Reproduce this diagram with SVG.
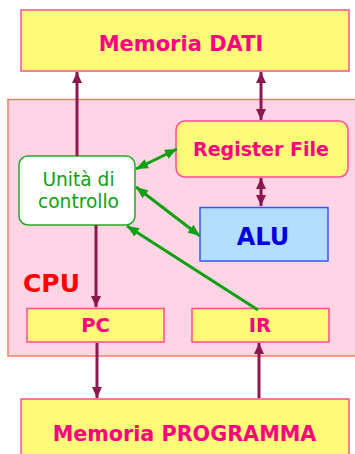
<svg xmlns="http://www.w3.org/2000/svg" width="355" height="454" viewBox="0 0 355 454">
<style>
.mem{fill:#FFFA7A;stroke:#FF4C94;stroke-width:1.5}
.lbl{font-family:"DejaVu Sans",Verdana,sans-serif;font-weight:bold;fill:#FF0080;text-anchor:middle}
.bus{stroke:#8C1850;stroke-width:3;fill:none}
.ctl{stroke:#10A010;stroke-width:3;fill:none}
</style>
<defs>
<marker id="mh" viewBox="0 0 11 10" refX="11" refY="5" markerWidth="11" markerHeight="10" markerUnits="userSpaceOnUse" orient="auto-start-reverse"><path d="M0,0 L11,5 L0,10 Z" fill="#8C1850"/></marker>
<marker id="gh" viewBox="0 0 12 10" refX="12" refY="5" markerWidth="12" markerHeight="10" markerUnits="userSpaceOnUse" orient="auto-start-reverse"><path d="M0,0 L12,5 L0,10 Z" fill="#10A010"/></marker>
</defs>
<g id="cpu">
<rect x="8" y="99.5" width="352" height="256.5" fill="#FFD4E5" stroke="#FF7766" stroke-width="1.5"/>
<text x="23" y="292" font-family="DejaVu Sans,Verdana,sans-serif" font-weight="bold" font-size="25" fill="#FF0000">CPU</text>
</g>
<g id="memoria-dati">
<rect class="mem" x="21" y="10" width="328" height="61"/>
<text class="lbl" x="181" y="51" font-size="21">Memoria DATI</text>
</g>
<g id="memoria-programma">
<rect class="mem" x="21" y="399" width="328" height="60"/>
<text class="lbl" x="184.5" y="441" font-size="20.7">Memoria PROGRAMMA</text>
</g>
<g id="register-file">
<rect class="mem" x="176" y="121" width="172" height="56" rx="9"/>
<text class="lbl" x="261" y="156" font-size="19">Register File</text>
</g>
<g id="alu">
<rect x="200" y="207.5" width="128" height="53.5" fill="#B3DEFF" stroke="#3355FF" stroke-width="1.5"/>
<text x="263" y="245" font-family="DejaVu Sans,Verdana,sans-serif" font-weight="bold" font-size="24" fill="#0000DD" text-anchor="middle">ALU</text>
</g>
<g id="unita-controllo">
<rect x="19" y="156" width="116" height="69" rx="9" fill="#FFFFFF" stroke="#22AA22" stroke-width="1.5"/>
<text x="78.5" y="186" font-family="DejaVu Sans,Verdana,sans-serif" font-size="18.6" fill="#10A010" text-anchor="middle">Unità di</text>
<text x="78.5" y="208" font-family="DejaVu Sans,Verdana,sans-serif" font-size="18.6" fill="#10A010" text-anchor="middle">controllo</text>
</g>
<g id="pc">
<rect class="mem" x="27" y="308.5" width="137" height="33.5"/>
<text class="lbl" x="95.5" y="332" font-size="19.5">PC</text>
</g>
<g id="ir">
<rect class="mem" x="192" y="308.5" width="137" height="33.5"/>
<text class="lbl" x="260" y="332" font-size="19.5">IR</text>
</g>
<g id="connectors">
<line class="bus" x1="77" y1="156" x2="77" y2="72" marker-end="url(#mh)"/>
<line class="bus" x1="261" y1="72" x2="261" y2="120" marker-start="url(#mh)" marker-end="url(#mh)"/>
<line class="bus" x1="261" y1="178" x2="261" y2="206" marker-start="url(#mh)" marker-end="url(#mh)"/>
<line class="bus" x1="96" y1="225" x2="96" y2="307" marker-end="url(#mh)"/>
<line class="bus" x1="97" y1="343" x2="97" y2="398" marker-end="url(#mh)"/>
<line class="bus" x1="259" y1="398" x2="259" y2="343" marker-end="url(#mh)"/>
<line class="ctl" x1="136" y1="169" x2="177" y2="149" marker-start="url(#gh)" marker-end="url(#gh)"/>
<line class="ctl" x1="136" y1="187" x2="200" y2="236" marker-start="url(#gh)" marker-end="url(#gh)"/>
<line class="ctl" x1="258" y1="310" x2="127" y2="226" marker-end="url(#gh)"/>
</g>
</svg>
